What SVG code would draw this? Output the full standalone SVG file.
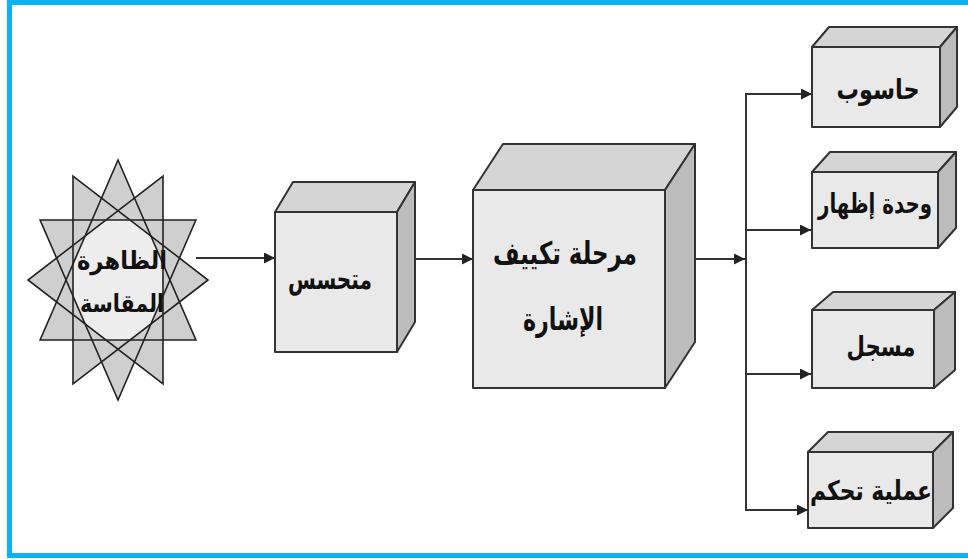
<svg xmlns="http://www.w3.org/2000/svg" width="968" height="559" viewBox="0 0 968 559">
<style>
.front{fill:#e9e9e9;stroke:#333;stroke-width:2;stroke-linejoin:round}
.top{fill:#d5d5d5;stroke:#333;stroke-width:2;stroke-linejoin:round}
.side{fill:#bcbcbc;stroke:#333;stroke-width:2;stroke-linejoin:round}
.lbl{font-family:"DejaVu Sans","Noto Sans",sans-serif;font-weight:bold;fill:#111;text-anchor:middle}
.con{stroke:#333;stroke-width:2;fill:none}
</style>
<defs>
<marker id="arr" viewBox="0 0 10 10" refX="10" refY="5" markerWidth="14" markerHeight="11" markerUnits="userSpaceOnUse" orient="auto">
<path d="M0,0 L10,5 L0,10 z" fill="#222"/>
</marker>
</defs>
<rect x="0" y="0" width="968" height="559" fill="#ffffff"/>
<rect x="7" y="0" width="961" height="5" fill="#0ab4f0"/>
<rect x="7" y="0" width="5" height="557" fill="#0ab4f0"/>
<rect x="7" y="553" width="961" height="5" fill="#0ab4f0"/>

<g id="star">
<polygon points="118,160 195.9,340 40.1,340" fill="#cfcfcf"/>
<polygon points="163,176.1 163,383.9 28,280" fill="#cfcfcf"/>
<polygon points="195.9,220 118,400 40.1,220" fill="#cfcfcf"/>
<polygon points="208,280 73,383.9 73,176.1" fill="#cfcfcf"/>
<polygon points="163,296.1 151,323.9 130.1,340 105.9,340 85,323.9 73,296.1 73,263.9 85,236.1 105.9,220 130.1,220 151,236.1 163,263.9" fill="#ededed"/>
<g fill="none" stroke="#222" stroke-width="1.6" stroke-linejoin="miter">
<polygon points="118,160 195.9,340 40.1,340"/>
<polygon points="163,176.1 163,383.9 28,280"/>
<polygon points="195.9,220 118,400 40.1,220"/>
<polygon points="208,280 73,383.9 73,176.1"/>
</g>
<text class="lbl" x="122" y="269" font-size="25" textLength="90" lengthAdjust="spacingAndGlyphs">الظاهرة</text>
<text class="lbl" x="122" y="312" font-size="25" textLength="84" lengthAdjust="spacingAndGlyphs">المقاسة</text>
</g>

<g id="sensor">
<polygon class="top" points="275,212 293,182 415,182 397,212"/>
<polygon class="side" points="397,212 415,182 415,322 397,352"/>
<rect class="front" x="275" y="212" width="122" height="140"/>
<text class="lbl" x="330" y="289" font-size="28" textLength="84" lengthAdjust="spacingAndGlyphs">متحسس</text>
</g>

<g id="conditioning">
<polygon class="top" points="473,190 503,144 695,144 665,190"/>
<polygon class="side" points="665,190 695,144 695,342 665,388"/>
<rect class="front" x="473" y="190" width="192" height="198"/>
<text class="lbl" x="565" y="264" font-size="31" textLength="144" lengthAdjust="spacingAndGlyphs">مرحلة تكييف</text>
<text class="lbl" x="563" y="330" font-size="31" textLength="80" lengthAdjust="spacingAndGlyphs">الإشارة</text>
</g>

<g id="computer">
<polygon class="top" points="812,47 829,27 957,27 940,47"/>
<polygon class="side" points="940,47 957,27 957,107 940,127"/>
<rect class="front" x="812" y="47" width="128" height="80"/>
<text class="lbl" x="878" y="99" font-size="28" textLength="83" lengthAdjust="spacingAndGlyphs">حاسوب</text>
</g>

<g id="display">
<polygon class="top" points="812,172 830,152 956,152 938,172"/>
<polygon class="side" points="938,172 956,152 956,228 938,248"/>
<rect class="front" x="812" y="172" width="126" height="76"/>
<text class="lbl" x="875" y="213" font-size="27" textLength="114" lengthAdjust="spacingAndGlyphs">وحدة إظهار</text>
</g>

<g id="recorder">
<polygon class="top" points="812,310 833,292 955,292 934,310"/>
<polygon class="side" points="934,310 955,292 955,370 934,388"/>
<rect class="front" x="812" y="310" width="122" height="78"/>
<text class="lbl" x="881" y="356" font-size="28" textLength="69" lengthAdjust="spacingAndGlyphs">مسجل</text>
</g>

<g id="control">
<polygon class="top" points="808,452 828,432 953,432 933,452"/>
<polygon class="side" points="933,452 953,432 953,508 933,528"/>
<rect class="front" x="808" y="452" width="125" height="76"/>
<text class="lbl" x="871" y="500" font-size="27" textLength="122" lengthAdjust="spacingAndGlyphs">عملية تحكم</text>
</g>

<g id="connectors">
<path class="con" d="M196,258 H275" marker-end="url(#arr)"/>
<path class="con" d="M415,259 H473" marker-end="url(#arr)"/>
<path class="con" d="M695,259 H745" marker-end="url(#arr)"/>
<path class="con" d="M746,94 V510"/>
<path class="con" d="M745,94 H812" marker-end="url(#arr)"/>
<path class="con" d="M745,230 H811" marker-end="url(#arr)"/>
<path class="con" d="M745,374 H811" marker-end="url(#arr)"/>
<path class="con" d="M745,510 H808" marker-end="url(#arr)"/>
</g>
</svg>
